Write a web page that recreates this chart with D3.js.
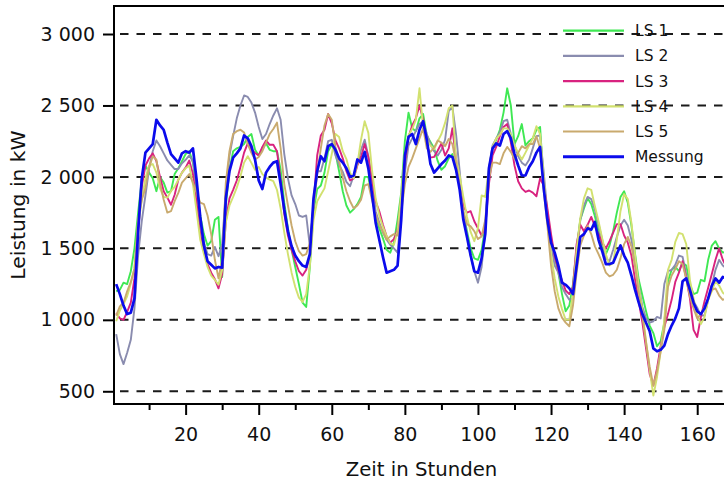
<!DOCTYPE html>
<html>
<head>
<meta charset="utf-8">
<script src="https://cdn.jsdelivr.net/npm/d3@7"></script>
<style>
  html, body { margin: 0; padding: 0; background: #fff; }
  svg { display: block; font-family: "DejaVu Sans", sans-serif; }
</style>
</head>
<body>
<svg id="chart" width="724" height="482"></svg>
<script>
// Hourly load over one week (kW): five load profiles and the measurement
const hours = d3.range(1, 169);

const ls1 = [1200,1210,1260,1250,1340,1500,1750,1980,2080,2030,1990,1900,2000,1960,1890,1900,2020,2060,2110,2160,
  2180,2100,1920,1730,1600,1520,1550,1700,1720,1300,1800,2050,2180,2200,2210,2230,2280,2300,2190,2150,
  2200,2235,2190,2180,2180,2050,1820,1640,1490,1370,1250,1120,1090,1370,1760,1915,1940,2030,2180,2225,
  2170,2040,1900,1800,1750,1775,1810,1860,2000,2000,1860,1730,1640,1570,1490,1470,1540,1700,1890,2250,
  2450,2340,2320,2410,2440,2290,2245,2200,2110,2050,2075,2130,2160,2060,1950,1750,1620,1500,1430,1420,
  1490,1650,2050,2200,2260,2330,2450,2620,2500,2230,2285,2370,2220,2250,2270,2330,2350,1950,1740,1570,
  1440,1330,1180,1060,1100,1250,1500,1700,1780,1850,1810,1725,1620,1500,1460,1520,1620,1750,1860,1900,
  1820,1660,1460,1280,1170,1060,960,907,815,850,980,1270,1350,1370,1340,1400,1380,1250,1180,1190,
  1280,1270,1420,1520,1550,1500,1470,1480];

const ls2 = [900,760,690,770,860,1080,1450,1690,1870,2060,2180,2255,2215,2165,2115,2085,2055,2055,2095,2120,
  2150,2110,1935,1690,1540,1460,1450,1510,1445,1530,1900,2150,2285,2410,2500,2570,2560,2520,2450,2350,
  2265,2300,2370,2430,2480,2400,2160,1990,1870,1810,1730,1720,1730,1514,1810,2040,2040,2130,2250,2260,
  2150,2085,2035,1965,1935,2010,2090,2190,2260,2145,1980,1760,1680,1610,1560,1525,1500,1470,1760,2030,
  2220,2270,2320,2370,2390,2300,2230,2180,2150,2190,2260,2460,2490,2300,2040,1750,1590,1450,1340,1260,
  1370,1620,2050,2220,2270,2310,2390,2400,2300,2225,2145,2100,2080,2120,2200,2285,2290,2030,1750,1530,
  1380,1330,1230,1180,1140,1150,1420,1700,1800,1860,1845,1770,1670,1560,1430,1410,1490,1580,1660,1700,
  1660,1560,1420,1240,1090,1010,980,990,1020,1010,1250,1340,1350,1385,1450,1440,1320,1210,1130,1085,
  1030,1030,1140,1240,1350,1420,1380,1360];

const ls3 = [1047,1010,1000,1055,1120,1290,1610,1930,2080,2130,2165,2110,2000,1900,1855,1805,1875,1980,2030,2065,
  2115,2020,1820,1600,1480,1390,1330,1285,1220,1320,1690,1850,1910,1975,2070,2170,2235,2192,2168,2150,
  2210,2255,2225,2225,2180,1980,1740,1590,1491,1410,1340,1310,1350,1450,1800,2150,2290,2330,2440,2375,
  2255,2200,2130,2040,1975,1990,2080,2140,2230,2140,1980,1830,1760,1665,1584,1540,1565,1630,1850,2100,
  2280,2360,2410,2500,2400,2230,2135,2140,2185,2235,2150,2200,2340,2130,1930,1795,1750,1760,1690,1640,
  1590,1650,1950,2150,2210,2285,2350,2370,2240,2080,1970,1920,1895,1905,1890,1865,1990,1940,1780,1600,
  1444,1350,1275,1205,1180,1230,1530,1665,1620,1665,1720,1654,1600,1540,1500,1550,1610,1670,1670,1590,
  1540,1450,1280,1130,980,800,620,540,660,815,950,1040,1140,1265,1330,1410,1290,1150,930,880,
  1020,1130,1225,1320,1420,1500,1420,1370];

const ls4 = [990,1065,1110,1165,1255,1360,1650,1840,1990,2080,2090,2030,1920,1860,1855,1900,1930,1980,2030,2060,
  2080,1950,1760,1560,1460,1370,1310,1280,1245,1351,1680,1800,1860,1925,2005,2100,2145,2098,2050,2070,
  2020,1995,1981,1970,1910,1780,1610,1460,1330,1230,1155,1125,1180,1380,1700,1830,1875,1920,2040,2160,
  2300,2280,2180,2125,2028,1990,2090,2260,2390,2308,2050,1850,1730,1650,1585,1535,1525,1620,1880,2168,
  2290,2335,2400,2620,2340,2260,2220,2195,2250,2300,2378,2480,2500,2120,2010,1860,1720,1615,1550,1640,
  1870,1860,2060,2210,2270,2295,2340,2340,2295,2220,2168,2122,2170,2220,2270,2355,2300,2000,1680,1460,
  1290,1164,1075,1000,1000,1190,1490,1710,1850,1920,1910,1795,1690,1570,1460,1380,1400,1560,1760,1880,
  1845,1678,1450,1230,1060,850,650,470,600,780,1000,1350,1420,1545,1608,1600,1530,1280,1150,1030,
  970,1020,1140,1200,1270,1240,1190,1170];

const ls5 = [1030,1094,1120,1200,1265,1360,1700,1840,1920,2065,2145,2120,1960,1840,1750,1760,1830,1888,1960,1990,
  2020,1960,1890,1820,1810,1730,1600,1420,1290,1421,1960,2180,2300,2320,2330,2310,2230,2168,2122,2140,
  2180,2240,2300,2335,2380,2200,1950,1800,1660,1550,1480,1450,1460,1538,1780,2020,2200,2360,2440,2400,
  2210,2110,1995,1900,1830,1780,1800,1840,1940,1950,1840,1740,1665,1615,1561,1584,1600,1590,1750,1950,
  2070,2130,2200,2270,2340,2200,2175,2205,2255,2240,2215,2265,2230,2100,1930,1760,1670,1654,1620,1565,
  1584,1700,1990,2100,2100,2090,2165,2210,2175,2125,2168,2215,2200,2230,2230,2285,2200,1900,1660,1380,
  1200,1080,1015,980,955,1100,1330,1520,1590,1660,1600,1514,1460,1400,1330,1304,1315,1350,1430,1530,
  1580,1514,1370,1190,1030,840,670,540,640,780,930,1230,1310,1355,1410,1390,1285,1164,1080,1010,
  1040,1090,1150,1210,1220,1170,1140,1150];

const messung = [1250,1180,1100,1040,1050,1150,1620,1990,2170,2200,2230,2400,2360,2330,2240,2160,2130,2100,2165,2180,
  2170,2200,1980,1720,1520,1410,1385,1360,1370,1365,1850,2040,2135,2165,2200,2290,2270,2215,2120,1975,
  1915,2030,2070,2100,2110,1950,1770,1620,1514,1450,1410,1380,1370,1460,1850,2040,2145,2110,2215,2230,
  2190,2130,2100,2060,2000,2010,2122,2100,2175,2060,1880,1680,1560,1440,1330,1340,1350,1380,1700,2150,
  2280,2300,2230,2330,2390,2260,2090,2030,2060,2090,2115,2150,2140,2050,1910,1700,1580,1450,1340,1330,
  1430,1600,2060,2200,2235,2220,2300,2320,2270,2160,2080,2010,2010,2070,2110,2170,2210,1920,1700,1540,
  1470,1380,1260,1245,1220,1180,1380,1580,1600,1640,1630,1685,1560,1480,1390,1390,1400,1460,1520,1450,
  1400,1310,1210,1120,1040,980,920,800,780,790,820,900,960,1010,1080,1270,1290,1210,1120,1060,
  1040,1080,1150,1240,1290,1260,1300,1290];

const seriesNames = ["LS 1", "LS 2", "LS 3", "LS 4", "LS 5", "Messung"];
const seriesValues = [ls1, ls2, ls3, ls4, ls5, messung];
const seriesColors = ["#3fe853", "#8a8caf", "#d8227f", "#d2e170", "#c9aa6e", "#0b0bec"];
const seriesWidths = [1.9, 1.9, 1.9, 1.9, 1.9, 2.7];

const yTicks = [500, 1000, 1500, 2000, 2500, 3000];
const xMajorTicks = [20, 40, 60, 80, 100, 120, 140, 160];
const xMinorTicks = [10, 30, 50, 70, 90, 110, 130, 150, 170];

const plot = { left: 114, top: 6, right: 729, bottom: 404 };

const svg = d3.select("#chart");

const x = d3.scaleLinear().domain([0.4, 168.7]).range([plot.left, plot.right]);
const y = d3.scaleLinear().domain([411, 3196]).range([plot.bottom, plot.top]);

// thousands separated by a space: "3 000"
const fmt = d3.formatLocale({ decimal: ",", thousands: " ", grouping: [3], currency: ["", " €"] }).format(",d");

// clip for the data lines
svg.append("defs").append("clipPath").attr("id", "plotClip")
  .append("rect")
  .attr("x", plot.left).attr("y", plot.top)
  .attr("width", plot.right - plot.left).attr("height", plot.bottom - plot.top);

// dashed horizontal grid
svg.append("g")
  .selectAll("line")
  .data(yTicks)
  .join("line")
  .attr("x1", plot.left).attr("x2", plot.right)
  .attr("y1", d => y(d)).attr("y2", d => y(d))
  .attr("stroke", "#1a1a1a")
  .attr("stroke-width", 2)
  .attr("stroke-dasharray", "8.5,8")
  .attr("stroke-dashoffset", 10.5);

// series lines
const line = d3.line()
  .x((d, i) => x(hours[i]))
  .y(d => y(d));

svg.append("g")
  .attr("clip-path", "url(#plotClip)")
  .selectAll("path")
  .data(seriesValues)
  .join("path")
  .attr("d", d => line(d))
  .attr("fill", "none")
  .attr("stroke", (d, i) => seriesColors[i])
  .attr("stroke-width", (d, i) => seriesWidths[i])
  .attr("stroke-linejoin", "round");

// axes
const yAxis = d3.axisLeft(y).tickValues(yTicks).tickFormat(fmt).tickSize(11).tickPadding(8);
const gy = svg.append("g").attr("transform", `translate(${plot.left},0)`).call(yAxis);

const xAxis = d3.axisBottom(x).tickValues(xMajorTicks).tickFormat(d3.format("d")).tickSize(11).tickPadding(13);
const gx = svg.append("g").attr("transform", `translate(0,${plot.bottom})`).call(xAxis);

const xMinor = d3.axisBottom(x).tickValues(xMinorTicks).tickFormat("").tickSize(6);
const gxm = svg.append("g").attr("transform", `translate(0,${plot.bottom})`).call(xMinor);

[gy, gx, gxm].forEach(g => {
  g.select(".domain").remove();
  g.selectAll(".tick line").attr("stroke", "#000").attr("stroke-width", 2);
  g.selectAll(".tick text")
    .attr("fill", "#111")
    .style("font-family", "'DejaVu Sans', sans-serif")
    .style("font-size", "19px");
});

// axis frame (left, top, bottom)
svg.append("path")
  .attr("d", `M${plot.right + 5},${plot.top}H${plot.left}V${plot.bottom}H${plot.right + 5}`)
  .attr("fill", "none")
  .attr("stroke", "#000")
  .attr("stroke-width", 2);

// axis titles
svg.append("text")
  .attr("x", (plot.left + plot.right) / 2)
  .attr("y", 476)
  .attr("text-anchor", "middle")
  .attr("fill", "#111")
  .style("font-size", "19.7px")
  .text("Zeit in Stunden");

svg.append("text")
  .attr("transform", `translate(25,${(plot.top + plot.bottom) / 2}) rotate(-90)`)
  .attr("text-anchor", "middle")
  .attr("fill", "#111")
  .style("font-size", "20.3px")
  .text("Leistung in kW");

// legend
const legend = svg.append("g").attr("transform", "translate(563,30.7)");
const rows = legend.selectAll("g")
  .data(seriesNames)
  .join("g")
  .attr("transform", (d, i) => `translate(0,${i * 25.2})`);
rows.append("line")
  .attr("x1", 0).attr("x2", 61)
  .attr("stroke", (d, i) => seriesColors[i])
  .attr("stroke-width", (d, i) => seriesWidths[i] + 0.3);
rows.append("text")
  .attr("x", 72).attr("y", 5.5)
  .attr("fill", "#111")
  .style("font-size", "15.5px")
  .text(d => d);
</script>
</body>
</html>
